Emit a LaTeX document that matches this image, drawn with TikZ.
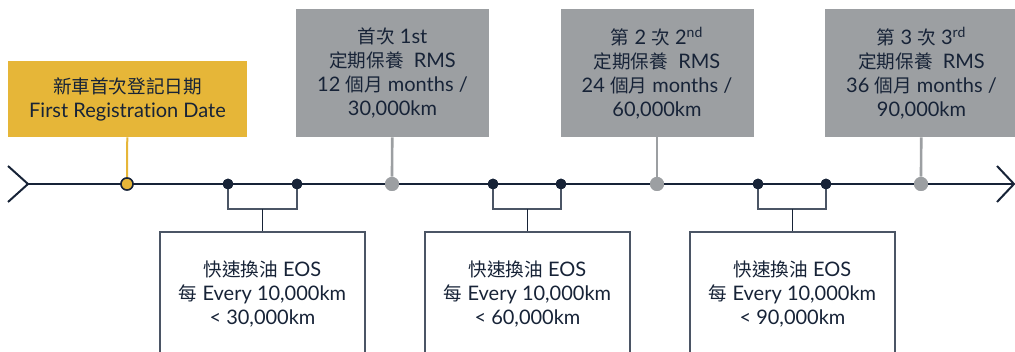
\documentclass[tikz,border=0pt]{standalone}
\usepackage{fontspec}
\setmainfont[Ligatures=NoCommon]{Lato}
\newfontfamily\cjk[Scale=0.93]{Noto Sans CJK TC}
\usetikzlibrary{positioning}

\definecolor{navy}{RGB}{23,35,55}
\definecolor{regyellow}{RGB}{230,182,56}
\definecolor{rmsgray}{RGB}{156,159,162}
\definecolor{eosline}{RGB}{75,85,101}

\tikzset{
  evdot/.style={circle,fill=navy,inner sep=0pt,minimum size=8pt},
  rmsdot/.style={circle,fill=rmsgray,inner sep=0pt,minimum size=10.5pt},
  regdot/.style={circle,fill=regyellow,draw=navy,line width=1.1pt,inner sep=0pt,minimum size=9pt},
  rmsbox/.style={fill=rmsgray,align=center,inner sep=0pt,minimum width=144.75pt,minimum height=96pt},
  regbox/.style={fill=regyellow,align=center,inner sep=0pt,minimum width=179.25pt,minimum height=57pt},
  eosbox/.style={draw=eosline,fill=white,line width=1.1pt,align=center,inner sep=0pt,minimum width=153.75pt,minimum height=93pt},
}

\begin{document}
\begin{tikzpicture}[x=0.75pt,y=0.75pt,yscale=-1,xscale=1,text=navy,font=\fontsize{15}{18}\selectfont]
	\useasboundingbox (0,0) rectangle (1015,352);
	\clip (0,0) rectangle (1015,352);

	%Time line
	\coordinate (tlstart) at (28,184);
	\coordinate (tlend) at (1014,184);
	\draw [navy,line width=1.9pt] (tlstart) -- (tlend);
	\draw [navy,line width=1.5pt] (8,166) -- (tlstart) -- (8,202);
	\draw [navy,line width=1.5pt] (997,166) -- (tlend) -- (997,202);

	% Text Node
	\node [regbox] (reg) at (127.5,99) {{\cjk 新車首次登記日期}\\First Registration Date};
	\node [rmsbox] (rms1) at (392.5,73) {{\cjk 首次} 1st\\{\cjk 定期保養}\ \ RMS\\12 {\cjk 個月} months /\\30,000km};
	\node [rmsbox] (rms2) at (657,73) {{\cjk 第} 2 {\cjk 次} 2\textsuperscript{nd}\\{\cjk 定期保養}\ \ RMS\\24 {\cjk 個月} months /\\60,000km};
	\node [rmsbox] (rms3) at (921.5,73) {{\cjk 第} 3 {\cjk 次} 3\textsuperscript{rd}\\{\cjk 定期保養}\ \ RMS\\36 {\cjk 個月} months /\\90,000km};
	\node [eosbox] (eos1) at (262.5,294) {{\cjk 快速換油} EOS\\{\cjk 每} Every 10,000km\\< 30,000km};
	\node [eosbox] (eos2) at (527.5,294) {{\cjk 快速換油} EOS\\{\cjk 每} Every 10,000km\\< 60,000km};
	\node [eosbox] (eos3) at (792.5,294) {{\cjk 快速換油} EOS\\{\cjk 每} Every 10,000km\\< 90,000km};

	%Dots on the line
	\node [regdot] (d0) at (127,184) {};
	\node [rmsdot] (r1) at (392,184) {};
	\node [rmsdot] (r2) at (657,184) {};
	\node [rmsdot] (r3) at (921,184) {};
	\node [evdot] (e1a) at (228,184) {};
	\node [evdot] (e1b) at (297,184) {};
	\node [evdot] (e2a) at (493,184) {};
	\node [evdot] (e2b) at (561,184) {};
	\node [evdot] (e3a) at (758,184) {};
	\node [evdot] (e3b) at (826,184) {};

	%Connectors
	\draw [regyellow,line width=1.5pt] (reg) -- (d0);
	\draw [rmsgray,line width=2pt] (rms1) -- (r1);
	\draw [rmsgray,line width=2pt] (rms2) -- (r2);
	\draw [rmsgray,line width=2pt] (rms3) -- (r3);

	%Brackets
	\coordinate (b1) at (262.5,209);
	\coordinate (b2) at (527.5,209);
	\coordinate (b3) at (792.5,209);
	\draw [eosline,line width=1.1pt] (e1a.center) |- (b1) -| (e1b.center);
	\draw [eosline,line width=1.1pt] (e2a.center) |- (b2) -| (e2b.center);
	\draw [eosline,line width=1.1pt] (e3a.center) |- (b3) -| (e3b.center);
	\draw [navy,line width=1.4pt] (b1) -- (eos1);
	\draw [navy,line width=1.4pt] (b2) -- (eos2);
	\draw [navy,line width=1.4pt] (b3) -- (eos3);

	%redraw dots over connectors
	\node [regdot] at (d0) {};
	\node [rmsdot] at (r1) {};
	\node [rmsdot] at (r2) {};
	\node [rmsdot] at (r3) {};
	\node [evdot] at (e1a) {};
	\node [evdot] at (e1b) {};
	\node [evdot] at (e2a) {};
	\node [evdot] at (e2b) {};
	\node [evdot] at (e3a) {};
	\node [evdot] at (e3b) {};

\end{tikzpicture}
\end{document}
